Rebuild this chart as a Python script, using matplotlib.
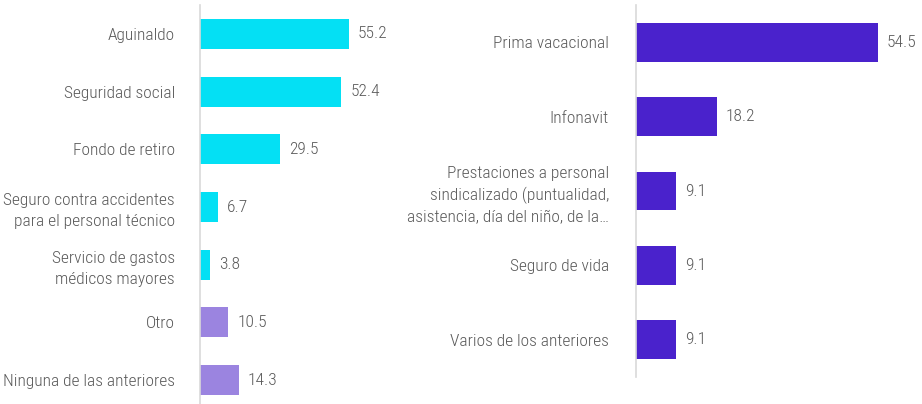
import matplotlib.pyplot as plt
from matplotlib import font_manager

# --- data ---
left_labels = ['Aguinaldo', 'Seguridad social', 'Fondo de retiro',
               'Seguro contra accidentes\npara el personal técnico',
               'Servicio de gastos\nmédicos mayores', 'Otro',
               'Ninguna de las anteriores']
left_values = [55.2, 52.4, 29.5, 6.7, 3.8, 10.5, 14.3]
left_colors = ['#04E0F4'] * 5 + ['#9B84E0'] * 2

right_labels = ['Prima vacacional', 'Infonavit',
                'Prestaciones a personal\nsindicalizado (puntualidad,\nasistencia, día del niño, de la…',
                'Seguro de vida', 'Varios de los anteriores']
right_values = [54.5, 18.2, 9.1, 9.1, 9.1]
right_color = '#4A22CC'

names = {f.name for f in font_manager.fontManager.ttflist}
font = 'Roboto Condensed' if 'Roboto Condensed' in names else 'DejaVu Sans'
plt.rcParams['font.family'] = [font, 'DejaVu Sans']
plt.rcParams['font.weight'] = 'light'

text_color = '#595959'
W, H = 922, 404
fig = plt.figure(figsize=(W / 100, H / 100), dpi=100)

# axes placed in pixel terms
ax1 = fig.add_axes([200 / W, 1 - 409 / H, 189 / W, 404 / H])
ax2 = fig.add_axes([636 / W, 1 - 377 / H, 266 / W, 372 / H])


def draw(ax, labels, values, colors, xmax, pad):
    y = list(range(len(labels)))
    ax.barh(y, values, height=0.52, color=colors)
    ax.set_ylim(len(labels) - 0.5, -0.5)
    ax.set_xlim(0, xmax)
    ax.set_yticks(y)
    ax.set_yticklabels(labels, fontsize=12.5, color=text_color, ha='right',
                       linespacing=1.45)
    ax.tick_params(axis='y', length=0, pad=pad)
    ax.set_xticks([])
    for s in ['top', 'right', 'bottom']:
        ax.spines[s].set_visible(False)
    ax.spines['left'].set_color('#D9D9D9')
    ax.spines['left'].set_linewidth(1.2)
    for yi, v in zip(y, values):
        ax.annotate(f'{v:.1f}', (v, yi), xytext=(6.5, 0), textcoords='offset points',
                    va='center', ha='left', fontsize=12.5, color=text_color,
                    annotation_clip=False)


draw(ax1, left_labels, left_values, left_colors, 70, 18)
draw(ax2, right_labels, right_values, [right_color] * 5, 60, 19.5)

fig.savefig('out.png', dpi=100)
